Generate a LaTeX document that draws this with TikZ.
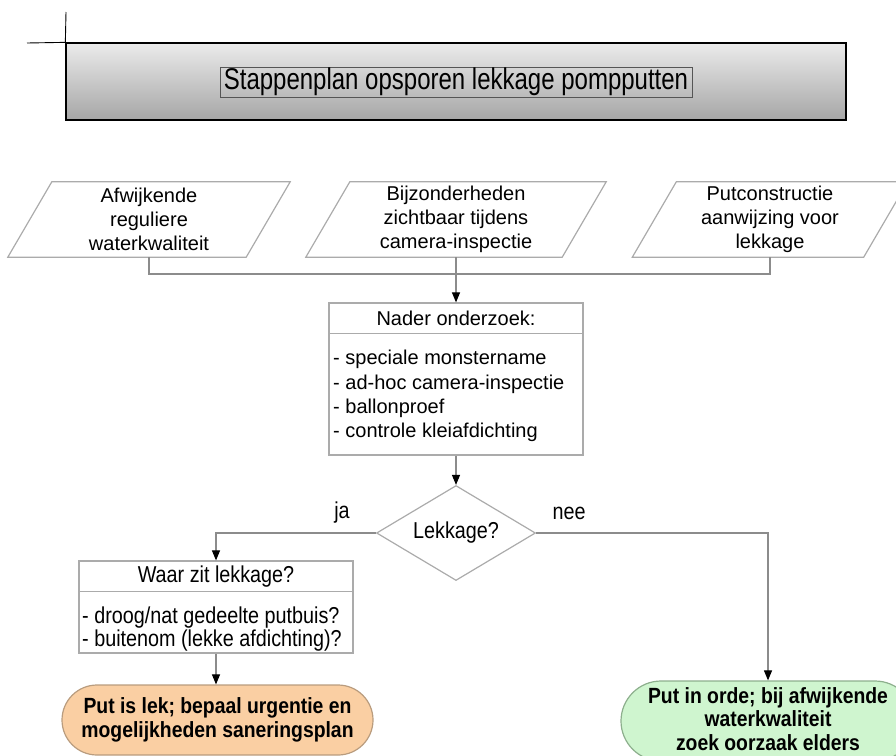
\documentclass[tikz,border=0pt]{standalone}
\usepackage{fontspec}
\setmainfont{Liberation Sans}
\newfontfamily\titlefont[FakeStretch=0.80]{Liberation Sans}
\newfontfamily\narrowfont[FakeStretch=0.86]{Liberation Sans}
\newfontfamily\narrowbold[FakeStretch=0.88]{Liberation Sans Bold}
\usetikzlibrary{shapes.geometric,arrows.meta,calc}
\definecolor{linegray}{HTML}{8C8C8C}
\definecolor{boxgray}{HTML}{ABABAB}
\definecolor{titletop}{HTML}{EBEBEB}
\definecolor{titlebot}{HTML}{A6A6A6}
\definecolor{innergray}{HTML}{555555}
\definecolor{orangefill}{HTML}{FACFA3}
\definecolor{orangeedge}{HTML}{B99C7E}
\definecolor{greenfill}{HTML}{CFF5CF}
\definecolor{greenedge}{HTML}{8DAF8D}
\tikzset{
  conn/.style={draw=linegray, line width=1.1pt},
  arr/.style={conn, -{Triangle[width=8pt,length=10pt,color=black]}},
  border/.style={draw=boxgray, line width=1.2pt},
  ptext/.style={draw=none, align=center, inner sep=0pt, minimum height=75pt,
    font=\fontsize{20}{24}\selectfont},
  boxs/.style={border, fill=white, inner sep=0pt},
  normtext/.style={inner sep=0pt, font=\fontsize{20}{24.3}\selectfont},
  narrowtext/.style={inner sep=0pt, font=\narrowfont\fontsize{23}{21}\selectfont},
  boldtext/.style={align=center, inner sep=0pt, font=\narrowbold\fontsize{22}{23.5}\selectfont},
}
\begin{document}
\begin{tikzpicture}[x=1pt,y=-1pt]
\useasboundingbox (0,0) rectangle (896,755);
\clip (0,0) rectangle (896,755);

% title
\node[draw=black, line width=1.3pt, top color=titletop, bottom color=titlebot,
      minimum width=780pt, minimum height=77pt, inner sep=0pt] (title) at (456,81.5) {};
\draw[black, line width=0.9pt] (66,12) -- (title.north west);
\draw[black, line width=0.9pt] (27,43) -- (title.north west);
\node[draw=innergray, line width=1pt, minimum width=472pt, minimum height=30pt, inner sep=0pt,
      font=\titlefont\fontsize{30}{30}\selectfont] (titletext) at (456,82)
      {Stappenplan opsporen lekkage pompputten};

% parallelograms
\node[ptext, minimum width=238pt] (p1) at (149,219.5) {Afwijkende\\reguliere\\waterkwaliteit};
\node[ptext, minimum width=256pt] (p2) at (456,219.5) {Bijzonderheden\\zichtbaar tijdens\\camera-inspectie};
\node[ptext, minimum width=231pt] (p3) at (770,219.5) {Putconstructie\\aanwijzing voor\\lekkage};
\foreach \p in {p1,p2,p3}{
  \draw[border] ($(\p.north west)+(22,0)$) -- ($(\p.north east)+(22,0)$)
     -- ($(\p.south east)+(-22,0)$) -- ($(\p.south west)+(-22,0)$) -- cycle;
}

% Nader onderzoek
\node[boxs, minimum width=254pt, minimum height=152pt] (nader) at (456,379) {};
\draw[border] ($(nader.north west)+(0,31)$) -- ($(nader.north east)+(0,31)$);
\node[normtext] (naderhead) at (456,318.5) {Nader onderzoek:};
\node[normtext, anchor=west, align=left] (naderitems) at (333,396)
  {- speciale monstername\\- ad-hoc camera-inspectie\\- ballonproef\\- controle kleiafdichting};

\coordinate (joint) at (456,274);
\draw[conn] (p1.south) |- (joint);
\draw[conn] (p3.south) |- (joint);
\draw[arr] (p2.south) -- (nader.north);

% decision
\node[diamond, border, aspect=1.67, minimum width=159pt, minimum height=95pt, inner sep=0pt,
      font=\narrowfont\fontsize{23}{24}\selectfont] (q) at (456,533) {Lekkage?};
\draw[arr] (nader.south) -- (q.north);
\node[narrowtext] (ja) at (342,513) {ja};
\node[narrowtext] (nee) at (569,513) {nee};

% Waar zit lekkage
\node[boxs, minimum width=274pt, minimum height=92pt] (waar) at (216,607) {};
\draw[border] ($(waar.north west)+(0,31)$) -- ($(waar.north east)+(0,31)$);
\node[narrowtext] (waarhead) at (216,577) {Waar zit lekkage?};
\node[narrowtext, anchor=west, align=left] (waaritems) at (82,629)
  {- droog/nat gedeelte putbuis?\\- buitenom (lekke afdichting)?};

% terminals
\node[boldtext, draw=orangeedge, fill=orangefill, line width=1.2pt, rounded corners=35pt,
      minimum width=311pt, minimum height=70pt] (lek) at (217.5,720)
  {Put is lek; bepaal urgentie en\\mogelijkheden saneringsplan};
\node[draw=greenedge, fill=greenfill, line width=1.2pt, rounded corners=40pt,
      minimum width=294pt, minimum height=80pt] (orde) at (768,721) {};
\node[boldtext, font=\narrowbold\fontsize{22}{23.5}\selectfont] (ordetext) at (768,719)
  {Put in orde; bij afwijkende\\waterkwaliteit\\zoek oorzaak elders};

\draw[arr] (q.west) -| (waar.north);
\draw[arr] (q.east) -| (orde.north);
\draw[arr] (waar.south) -- (waar.south |- lek.north);
\end{tikzpicture}
\end{document}
